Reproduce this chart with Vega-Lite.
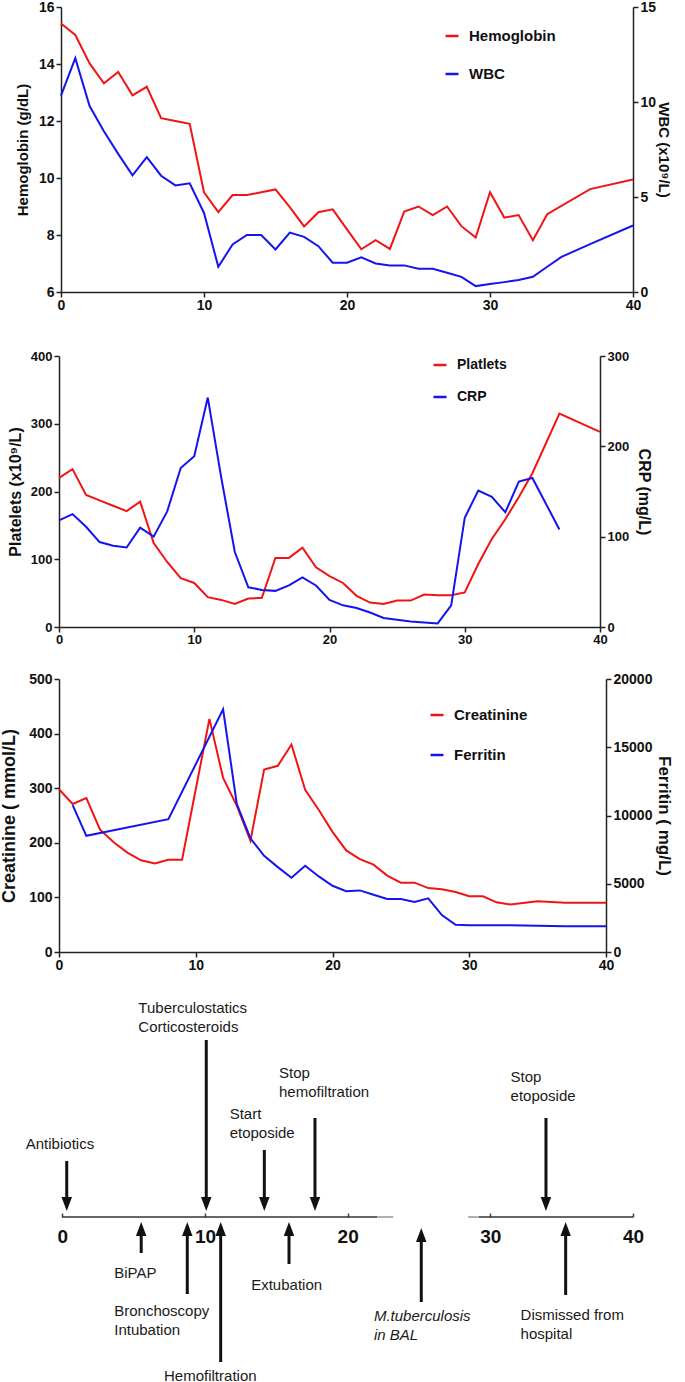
{
"$schema":"https://vega.github.io/schema/vega-lite/v6.json",
"padding":0,
"background":"white",
"config":{
 "font":"Liberation Sans",
 "view":{"stroke":null},
 "axis":{"labelFont":"Liberation Sans","titleFont":"Liberation Sans","labelFontWeight":"bold","titleFontWeight":"bold","labelColor":"#111","titleColor":"#111","domainColor":"#222","tickColor":"#222","domainWidth":1.5,"tickWidth":1.5,"tickSize":5,"grid":false,"labelFlush":false,"labelOverlap":false,"labelPadding":2},
 "legend":{"symbolType":"stroke","symbolStrokeWidth":2.5,"symbolSize":169,"labelFont":"Liberation Sans","labelFontWeight":"bold","labelColor":"#111","labelOffset":9}
},
"datasets":{
 "p1":[
  {"d":0,"s":"Hemoglobin","v":15.42},{"d":1,"s":"Hemoglobin","v":15.02},{"d":2,"s":"Hemoglobin","v":14.02},{"d":3,"s":"Hemoglobin","v":13.32},{"d":4,"s":"Hemoglobin","v":13.72},{"d":5,"s":"Hemoglobin","v":12.9},{"d":6,"s":"Hemoglobin","v":13.2},{"d":7,"s":"Hemoglobin","v":12.1},{"d":8,"s":"Hemoglobin","v":12.0},{"d":9,"s":"Hemoglobin","v":11.9},{"d":10,"s":"Hemoglobin","v":9.5},{"d":11,"s":"Hemoglobin","v":8.8},{"d":12,"s":"Hemoglobin","v":9.4},{"d":13,"s":"Hemoglobin","v":9.4},{"d":14,"s":"Hemoglobin","v":9.5},{"d":15,"s":"Hemoglobin","v":9.6},{"d":16,"s":"Hemoglobin","v":8.98},{"d":17,"s":"Hemoglobin","v":8.3},{"d":18,"s":"Hemoglobin","v":8.8},{"d":19,"s":"Hemoglobin","v":8.9},{"d":20,"s":"Hemoglobin","v":8.2},{"d":21,"s":"Hemoglobin","v":7.5},{"d":22,"s":"Hemoglobin","v":7.82},{"d":23,"s":"Hemoglobin","v":7.51},{"d":24,"s":"Hemoglobin","v":8.82},{"d":25,"s":"Hemoglobin","v":9.0},{"d":26,"s":"Hemoglobin","v":8.7},{"d":27,"s":"Hemoglobin","v":9.0},{"d":28,"s":"Hemoglobin","v":8.31},{"d":29,"s":"Hemoglobin","v":7.91},{"d":30,"s":"Hemoglobin","v":9.5},{"d":31,"s":"Hemoglobin","v":8.61},{"d":32,"s":"Hemoglobin","v":8.7},{"d":33,"s":"Hemoglobin","v":7.82},{"d":34,"s":"Hemoglobin","v":8.73},{"d":37,"s":"Hemoglobin","v":9.61},{"d":40,"s":"Hemoglobin","v":9.95},
  {"d":0,"s":"WBC","v":10.33},{"d":1,"s":"WBC","v":12.31},{"d":2,"s":"WBC","v":9.79},{"d":3,"s":"WBC","v":8.46},{"d":4,"s":"WBC","v":7.27},{"d":5,"s":"WBC","v":6.14},{"d":6,"s":"WBC","v":7.1},{"d":7,"s":"WBC","v":6.12},{"d":8,"s":"WBC","v":5.61},{"d":9,"s":"WBC","v":5.72},{"d":10,"s":"WBC","v":4.16},{"d":11,"s":"WBC","v":1.33},{"d":12,"s":"WBC","v":2.5},{"d":13,"s":"WBC","v":3.0},{"d":14,"s":"WBC","v":3.0},{"d":15,"s":"WBC","v":2.24},{"d":16,"s":"WBC","v":3.13},{"d":17,"s":"WBC","v":2.9},{"d":18,"s":"WBC","v":2.41},{"d":19,"s":"WBC","v":1.54},{"d":20,"s":"WBC","v":1.54},{"d":21,"s":"WBC","v":1.82},{"d":22,"s":"WBC","v":1.5},{"d":23,"s":"WBC","v":1.4},{"d":24,"s":"WBC","v":1.4},{"d":25,"s":"WBC","v":1.22},{"d":26,"s":"WBC","v":1.22},{"d":27,"s":"WBC","v":1.01},{"d":28,"s":"WBC","v":0.8},{"d":29,"s":"WBC","v":0.31},{"d":30,"s":"WBC","v":0.42},{"d":31,"s":"WBC","v":0.52},{"d":32,"s":"WBC","v":0.63},{"d":33,"s":"WBC","v":0.8},{"d":34,"s":"WBC","v":1.33},{"d":35,"s":"WBC","v":1.85},{"d":37,"s":"WBC","v":2.52},{"d":40,"s":"WBC","v":3.5}
 ],
 "p2":[
  {"d":0,"s":"Platlets","v":220},{"d":1,"s":"Platlets","v":233},{"d":2,"s":"Platlets","v":195},{"d":3,"s":"Platlets","v":187},{"d":4,"s":"Platlets","v":179},{"d":5,"s":"Platlets","v":171},{"d":6,"s":"Platlets","v":185},{"d":7,"s":"Platlets","v":124},{"d":8,"s":"Platlets","v":96},{"d":9,"s":"Platlets","v":72},{"d":10,"s":"Platlets","v":65},{"d":11,"s":"Platlets","v":44},{"d":12,"s":"Platlets","v":40},{"d":13,"s":"Platlets","v":34},{"d":14,"s":"Platlets","v":42},{"d":15,"s":"Platlets","v":43},{"d":16,"s":"Platlets","v":102},{"d":17,"s":"Platlets","v":102},{"d":18,"s":"Platlets","v":117},{"d":19,"s":"Platlets","v":88},{"d":20,"s":"Platlets","v":75},{"d":21,"s":"Platlets","v":65},{"d":22,"s":"Platlets","v":46},{"d":23,"s":"Platlets","v":36},{"d":24,"s":"Platlets","v":34},{"d":25,"s":"Platlets","v":39},{"d":26,"s":"Platlets","v":39},{"d":27,"s":"Platlets","v":48},{"d":28,"s":"Platlets","v":47},{"d":29,"s":"Platlets","v":47},{"d":30,"s":"Platlets","v":51},{"d":31,"s":"Platlets","v":93},{"d":32,"s":"Platlets","v":130},{"d":33,"s":"Platlets","v":159},{"d":34,"s":"Platlets","v":192},{"d":35,"s":"Platlets","v":227},{"d":37,"s":"Platlets","v":315},{"d":40,"s":"Platlets","v":288},
  {"d":0,"s":"CRP","v":118},{"d":1,"s":"CRP","v":125},{"d":2,"s":"CRP","v":111},{"d":3,"s":"CRP","v":94},{"d":4,"s":"CRP","v":90},{"d":5,"s":"CRP","v":88},{"d":6,"s":"CRP","v":110},{"d":7,"s":"CRP","v":100},{"d":8,"s":"CRP","v":128},{"d":9,"s":"CRP","v":176},{"d":10,"s":"CRP","v":189},{"d":11,"s":"CRP","v":254},{"d":12,"s":"CRP","v":165},{"d":13,"s":"CRP","v":83},{"d":14,"s":"CRP","v":44},{"d":15,"s":"CRP","v":41},{"d":16,"s":"CRP","v":40},{"d":17,"s":"CRP","v":46},{"d":18,"s":"CRP","v":55},{"d":19,"s":"CRP","v":46},{"d":20,"s":"CRP","v":30},{"d":21,"s":"CRP","v":24},{"d":22,"s":"CRP","v":21},{"d":23,"s":"CRP","v":16},{"d":24,"s":"CRP","v":10},{"d":25,"s":"CRP","v":8},{"d":26,"s":"CRP","v":6},{"d":27,"s":"CRP","v":5},{"d":28,"s":"CRP","v":4},{"d":29,"s":"CRP","v":24},{"d":30,"s":"CRP","v":121},{"d":31,"s":"CRP","v":151},{"d":32,"s":"CRP","v":144},{"d":33,"s":"CRP","v":127},{"d":34,"s":"CRP","v":161},{"d":35,"s":"CRP","v":165},{"d":37,"s":"CRP","v":108}
 ],
 "p3":[
  {"d":0,"s":"Creatinine","v":298},{"d":1,"s":"Creatinine","v":271},{"d":2,"s":"Creatinine","v":282},{"d":3,"s":"Creatinine","v":224},{"d":4,"s":"Creatinine","v":201},{"d":5,"s":"Creatinine","v":182},{"d":6,"s":"Creatinine","v":168},{"d":7,"s":"Creatinine","v":162},{"d":8,"s":"Creatinine","v":169},{"d":9,"s":"Creatinine","v":169},{"d":11,"s":"Creatinine","v":427},{"d":12,"s":"Creatinine","v":319},{"d":13,"s":"Creatinine","v":268},{"d":14,"s":"Creatinine","v":204},{"d":15,"s":"Creatinine","v":334},{"d":16,"s":"Creatinine","v":341},{"d":17,"s":"Creatinine","v":380},{"d":18,"s":"Creatinine","v":297},{"d":19,"s":"Creatinine","v":260},{"d":20,"s":"Creatinine","v":220},{"d":21,"s":"Creatinine","v":186},{"d":22,"s":"Creatinine","v":170},{"d":23,"s":"Creatinine","v":160},{"d":24,"s":"Creatinine","v":140},{"d":25,"s":"Creatinine","v":127},{"d":26,"s":"Creatinine","v":127},{"d":27,"s":"Creatinine","v":117},{"d":28,"s":"Creatinine","v":115},{"d":29,"s":"Creatinine","v":110},{"d":30,"s":"Creatinine","v":102},{"d":31,"s":"Creatinine","v":102},{"d":32,"s":"Creatinine","v":91},{"d":33,"s":"Creatinine","v":87},{"d":35,"s":"Creatinine","v":93},{"d":37,"s":"Creatinine","v":90},{"d":40,"s":"Creatinine","v":90},
  {"d":1,"s":"Ferritin","v":10756},{"d":2,"s":"Ferritin","v":8512},{"d":8,"s":"Ferritin","v":9732},{"d":12,"s":"Ferritin","v":17780},{"d":13,"s":"Ferritin","v":10854},{"d":14,"s":"Ferritin","v":8317},{"d":15,"s":"Ferritin","v":7049},{"d":16,"s":"Ferritin","v":6219},{"d":17,"s":"Ferritin","v":5439},{"d":18,"s":"Ferritin","v":6317},{"d":19,"s":"Ferritin","v":5537},{"d":20,"s":"Ferritin","v":4854},{"d":21,"s":"Ferritin","v":4450},{"d":22,"s":"Ferritin","v":4512},{"d":23,"s":"Ferritin","v":4195},{"d":24,"s":"Ferritin","v":3878},{"d":25,"s":"Ferritin","v":3878},{"d":26,"s":"Ferritin","v":3658},{"d":27,"s":"Ferritin","v":3927},{"d":28,"s":"Ferritin","v":2707},{"d":29,"s":"Ferritin","v":2000},{"d":30,"s":"Ferritin","v":1951},{"d":33,"s":"Ferritin","v":1951},{"d":35,"s":"Ferritin","v":1930},{"d":37,"s":"Ferritin","v":1878},{"d":40,"s":"Ferritin","v":1878}
 ],
 "axisline":[
  {"d":0,"d2":22.07,"t":"dark"},{"d":22.07,"d2":23.2,"t":"grey"},{"d":28.45,"d2":29.2,"t":"grey"},{"d":29.2,"d2":40,"t":"dark"}
 ],
 "arrows":[
  {"ev":"Antibiotics","d":0.31,"tail":56,"head":13,"dir":"down"},
  {"ev":"Tuberculostatics","d":10.09,"tail":177,"head":13,"dir":"down"},
  {"ev":"Start etoposide","d":14.16,"tail":67,"head":13,"dir":"down"},
  {"ev":"Stop hemofiltration","d":17.71,"tail":99,"head":13,"dir":"down"},
  {"ev":"Stop etoposide","d":33.9,"tail":99,"head":13,"dir":"down"},
  {"ev":"BiPAP","d":5.53,"tail":-36,"head":-12,"dir":"up"},
  {"ev":"Bronchoscopy","d":8.76,"tail":-77,"head":-12,"dir":"up"},
  {"ev":"Hemofiltration","d":11.1,"tail":-145,"head":-12,"dir":"up"},
  {"ev":"Extubation","d":15.89,"tail":-47,"head":-12,"dir":"up"},
  {"ev":"M.tuberculosis","d":25.16,"tail":-85,"head":-18,"dir":"up"},
  {"ev":"Dismissed","d":35.28,"tail":-78,"head":-12,"dir":"up"}
 ],
 "labels":[
  {"txt":"Antibiotics","d":-2.56,"ly":73,"it":false},
  {"txt":"Tuberculostatics\nCorticosteroids","d":5.33,"ly":209.3,"it":false},
  {"txt":"Start\netoposide","d":11.73,"ly":103,"it":false},
  {"txt":"Stop\nhemofiltration","d":15.19,"ly":144,"it":false},
  {"txt":"Stop\netoposide","d":31.42,"ly":140,"it":false},
  {"txt":"BiPAP","d":3.64,"ly":-56,"it":false},
  {"txt":"Bronchoscopy\nIntubation","d":3.64,"ly":-94,"it":false},
  {"txt":"Hemofiltration","d":7.13,"ly":-159,"it":false},
  {"txt":"Extubation","d":13.24,"ly":-68,"it":false},
  {"txt":"M.tuberculosis\nin BAL","d":21.84,"ly":-99,"it":true},
  {"txt":"Dismissed from\nhospital","d":32.12,"ly":-98,"it":false}
 ]
},
"spacing":0,
"bounds":"flush",
"resolve":{"scale":{"color":"independent","x":"independent","y":"independent"}},
"vconcat":[
 {
  "width":574,"height":292,
  "data":{"name":"p1"},
  "encoding":{
   "x":{"field":"d","type":"quantitative","scale":{"domain":[0,40],"nice":false,"range":[2,574]},"axis":{"title":null,"values":[0,10,20,30,40],"labelFontSize":14,"labelPadding":1}},
   "color":{"field":"s","type":"nominal","scale":{"domain":["Hemoglobin","WBC"],"range":["#f01414","#1414f0"]},"legend":{"title":null,"orient":"none","legendX":385,"legendY":28,"labelFontSize":15,"rowPadding":22}}
  },
  "layer":[
   {"transform":[{"filter":"datum.s==='Hemoglobin'"}],"mark":{"type":"line","strokeWidth":2},
    "encoding":{"y":{"field":"v","type":"quantitative","scale":{"domain":[6,16],"nice":false,"zero":false,"range":[292,7]},"axis":{"title":"Hemoglobin (g/dL)","values":[6,8,10,12,14,16],"labelFontSize":14,"titleFontSize":15,"titlePadding":8,"offset":-2}}}},
   {"transform":[{"filter":"datum.s==='WBC'"}],"mark":{"type":"line","strokeWidth":2},
    "encoding":{"y":{"field":"v","type":"quantitative","scale":{"domain":[0,15],"nice":false,"range":[292,7]},"axis":{"title":"WBC (x10⁹/L)","values":[0,5,10,15],"labelFontSize":14,"titleFontSize":15,"titlePadding":0}}}}
  ],
  "resolve":{"scale":{"y":"independent"}}
 },
 {
  "width":541,"height":335,
  "data":{"name":"p2"},
  "encoding":{
   "x":{"field":"d","type":"quantitative","scale":{"domain":[0,40],"nice":false},"axis":{"title":null,"values":[0,10,20,30,40],"labelFontSize":13,"labelPadding":1}},
   "color":{"field":"s","type":"nominal","scale":{"domain":["Platlets","CRP"],"range":["#f01414","#1414f0"]},"legend":{"title":null,"orient":"none","legendX":373,"legendY":65,"labelFontSize":14,"rowPadding":17}}
  },
  "layer":[
   {"transform":[{"filter":"datum.s==='Platlets'"}],"mark":{"type":"line","strokeWidth":2},
    "encoding":{"y":{"field":"v","type":"quantitative","scale":{"domain":[0,400],"nice":false,"range":[335,64]},"axis":{"title":"Platelets (x10⁹/L)","values":[0,100,200,300,400],"labelFontSize":13,"titleFontSize":16,"titlePadding":7}}}},
   {"transform":[{"filter":"datum.s==='CRP'"}],"mark":{"type":"line","strokeWidth":2},
    "encoding":{"y":{"field":"v","type":"quantitative","scale":{"domain":[0,300],"nice":false,"range":[335,64]},"axis":{"title":"CRP (mg/L)","values":[0,100,200,300],"labelFontSize":13,"titleFontSize":16,"titlePadding":7}}}}
  ],
  "resolve":{"scale":{"y":"independent"}}
 },
 {
  "width":547,"height":325,
  "data":{"name":"p3"},
  "encoding":{
   "x":{"field":"d","type":"quantitative","scale":{"domain":[0,40],"nice":false},"axis":{"title":null,"values":[0,10,20,30,40],"labelFontSize":14,"labelPadding":1}},
   "color":{"field":"s","type":"nominal","scale":{"domain":["Creatinine","Ferritin"],"range":["#f01414","#1414f0"]},"legend":{"title":null,"orient":"none","legendX":370,"legendY":80,"labelFontSize":15,"rowPadding":24}}
  },
  "layer":[
   {"transform":[{"filter":"datum.s==='Creatinine'"}],"mark":{"type":"line","strokeWidth":2},
    "encoding":{"y":{"field":"v","type":"quantitative","scale":{"domain":[0,500],"nice":false,"range":[325,52]},"axis":{"title":"Creatinine ( mmol/L)","values":[0,100,200,300,400,500],"labelFontSize":14,"titleFontSize":18,"titlePadding":10}}}},
   {"transform":[{"filter":"datum.s==='Ferritin'"}],"mark":{"type":"line","strokeWidth":2},
    "encoding":{"y":{"field":"v","type":"quantitative","scale":{"domain":[0,20000],"nice":false,"range":[325,52]},"axis":{"title":"Ferritin ( mg/L)","values":[0,5000,10000,15000,20000],"format":"d","labelFontSize":14,"titleFontSize":17,"titlePadding":3}}}}
  ],
  "resolve":{"scale":{"y":"independent"}}
 },
 {
  "width":574,"height":430,
  "encoding":{
   "x":{"field":"d","type":"quantitative","scale":{"domain":[0,40],"nice":false,"range":[3.3,574]},"axis":{"title":null,"values":[0,10,20,30,40],"domain":false,"tickSize":-4,"tickColor":"#444","tickWidth":1.5,"labelPadding":14,"labelFontSize":19,"offset":-165}}
  },
  "layer":[
   {"data":{"name":"axisline"},"transform":[{"filter":"datum.t==='dark'"}],"mark":{"type":"rule","strokeWidth":1.5,"color":"#333"},
    "encoding":{"x2":{"field":"d2"},"y":{"datum":0,"type":"quantitative","scale":{"domain":[-165,265],"nice":false,"zero":false},"axis":null}}},
   {"data":{"name":"axisline"},"transform":[{"filter":"datum.t==='grey'"}],"mark":{"type":"rule","strokeWidth":2,"color":"#b0b0b0"},
    "encoding":{"x2":{"field":"d2"},"y":{"datum":0,"type":"quantitative","scale":{"domain":[-165,265],"nice":false,"zero":false},"axis":null}}},
   {"data":{"name":"arrows"},"mark":{"type":"rule","strokeWidth":3,"color":"#111"},
    "encoding":{"y":{"field":"tail","type":"quantitative","scale":{"domain":[-165,265],"nice":false,"zero":false},"axis":null},"y2":{"field":"head"}}},
   {"data":{"name":"arrows"},"transform":[{"filter":"datum.dir==='down'"}],"mark":{"type":"point","shape":"M-0.75,-1L0.75,-1L0,1Z","size":196,"filled":true,"opacity":1,"color":"#111","strokeWidth":0},
    "encoding":{"y":{"field":"head","type":"quantitative","scale":{"domain":[-165,265],"nice":false,"zero":false},"axis":null}}},
   {"data":{"name":"arrows"},"transform":[{"filter":"datum.dir==='up'"}],"mark":{"type":"point","shape":"M-0.75,1L0.75,1L0,-1Z","size":196,"filled":true,"opacity":1,"color":"#111","strokeWidth":0},
    "encoding":{"y":{"field":"head","type":"quantitative","scale":{"domain":[-165,265],"nice":false,"zero":false},"axis":null}}},
   {"data":{"name":"labels"},"transform":[{"filter":"!datum.it"}],"mark":{"type":"text","align":"left","baseline":"middle","fontSize":15,"font":"Liberation Sans","lineBreak":"\n","lineHeight":19,"color":"#1a1a1a"},
    "encoding":{"y":{"field":"ly","type":"quantitative","scale":{"domain":[-165,265],"nice":false,"zero":false},"axis":null},"text":{"field":"txt"}}},
   {"data":{"name":"labels"},"transform":[{"filter":"datum.it"}],"mark":{"type":"text","align":"left","baseline":"middle","fontSize":15,"fontStyle":"italic","font":"Liberation Sans","lineBreak":"\n","lineHeight":19,"color":"#1a1a1a"},
    "encoding":{"y":{"field":"ly","type":"quantitative","scale":{"domain":[-165,265],"nice":false,"zero":false},"axis":null},"text":{"field":"txt"}}}
  ]
 }
]
}
